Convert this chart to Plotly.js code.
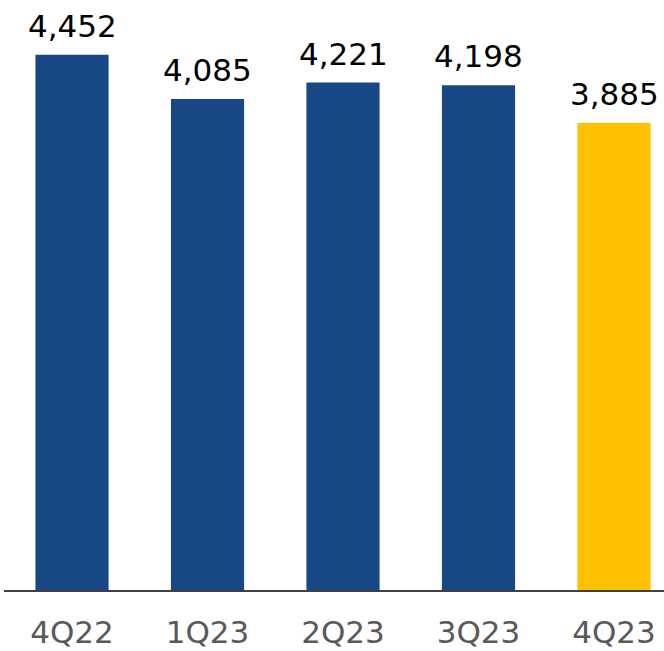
<!DOCTYPE html>
<html>
<head>
<meta charset="utf-8">
<script src="https://cdn.plot.ly/plotly-3.0.1.min.js"></script>
<style>html,body{margin:0;padding:0;background:#fff;}#chart{width:664px;height:651px;}</style>
</head>
<body>
<div id="chart"></div>
<script>
const categories = ["4Q22", "1Q23", "2Q23", "3Q23", "4Q23"];
const values = [4452, 4085, 4221, 4198, 3885];
const barColors = ["#174785", "#174785", "#174785", "#174785", "#FFC000"];
const labels = values.map(v => v.toLocaleString("en-US"));

const trace = {
  type: "bar",
  x: categories,
  y: values,
  marker: {color: barColors, line: {width: 0}},
  width: 0.54,
  hoverinfo: "none"
};

const annotations = categories.map((c, i) => ({
  x: c, y: values[i], xref: "x", yref: "y",
  text: labels[i], showarrow: false,
  xanchor: "center", yanchor: "bottom", yshift: 9,
  font: {family: "DejaVu Sans, Verdana, sans-serif", size: 31, color: "#000000"}
}));

const layout = {
  width: 664, height: 651,
  margin: {l: 4, r: 0, t: 10, b: 61},
  paper_bgcolor: "#ffffff", plot_bgcolor: "#ffffff",
  showlegend: false,
  annotations: annotations,
  xaxis: {
    type: "category",
    range: [-0.502, 4.369],
    showline: true, linecolor: "#404040", linewidth: 1.5,
    ticks: "", showgrid: false, zeroline: false,
    ticklabelstandoff: 14,
    tickfont: {family: "DejaVu Sans, Verdana, sans-serif", size: 31, color: "#595959"}
  },
  yaxis: {
    range: [0, 4825],
    visible: false, showgrid: false, zeroline: false
  }
};

Plotly.newPlot("chart", [trace], layout, {staticPlot: true, displayModeBar: false});
</script>
</body>
</html>
